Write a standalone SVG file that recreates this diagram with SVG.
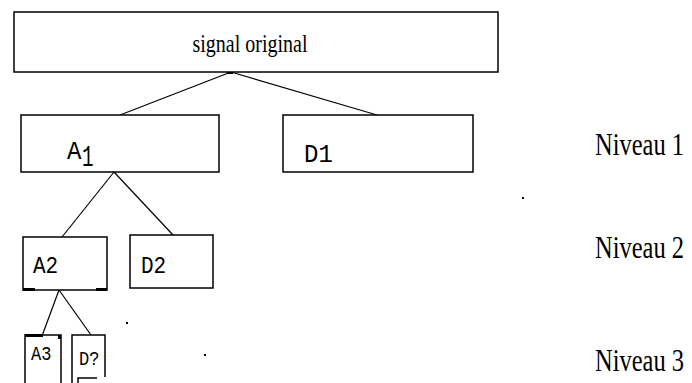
<svg xmlns="http://www.w3.org/2000/svg" width="692" height="383" viewBox="0 0 692 383">
<style>
.box{fill:#fff;stroke:#000;stroke-width:1.5}
.edge{fill:none;stroke:#000;stroke-width:1.2}
.serif{font-family:"Liberation Serif","Times New Roman",serif;fill:#000}
.mono{font-family:"Liberation Mono","Courier New",monospace;fill:#000}
.mark{fill:#000}
</style>
<rect width="692" height="383" fill="#fff"/>
<g id="connectors">
<line class="edge" x1="231" y1="72" x2="120" y2="115"/>
<line class="edge" x1="231" y1="72" x2="377" y2="115"/>
<line class="edge" x1="114" y1="172" x2="62" y2="237"/>
<line class="edge" x1="114" y1="172" x2="173" y2="235"/>
<line class="edge" x1="59" y1="290" x2="42" y2="336"/>
<line class="edge" x1="59" y1="290" x2="91" y2="335"/>
<rect class="mark" x="227" y="71" width="6" height="3"/>
</g>
<g id="signal">
<rect class="box" x="14" y="12" width="484" height="60"/>
<text class="serif" font-size="20" text-anchor="middle" transform="translate(250,52) scale(1,1.3)">signal original</text>
</g>
<g id="A1">
<rect class="box" x="21" y="115" width="198" height="57"/>
<text class="mono" font-size="24" transform="translate(67,159) scale(1,1.1)">A</text>
<text class="mono" font-size="24" transform="translate(82,166) scale(0.8,1.2)">1</text>
</g>
<g id="D1">
<rect class="box" x="283" y="115" width="190" height="57"/>
<text class="mono" font-size="24" transform="translate(304,162) scale(1,1.1)">D1</text>
</g>
<g id="A2">
<rect class="box" x="23" y="237" width="84" height="53"/>
<rect class="mark" x="23" y="288" width="12" height="3"/>
<rect class="mark" x="96" y="288" width="11" height="3"/>
<text class="mono" font-size="21" transform="translate(33,273) scale(1,1.1)">A2</text>
</g>
<g id="D2">
<rect class="box" x="130" y="235" width="83" height="53"/>
<text class="mono" font-size="21" transform="translate(141,273) scale(1,1.1)">D2</text>
</g>
<g id="A3">
<path class="box" d="M25,383 V335 H61 V383" fill="none"/>
<rect class="mark" x="25" y="334" width="18" height="3"/>
<rect class="mark" x="58" y="335" width="3" height="4"/>
<text class="mono" font-size="17" transform="translate(31,360) scale(1,1.2)">A3</text>
</g>
<g id="D3">
<path class="box" d="M72,383 V335 H105 V377" fill="none"/>
<path class="box" d="M78,383 V378 H97" fill="none"/>
<text class="mono" font-size="17" transform="translate(79,365) scale(1,1.2)">D?</text>
</g>
<g id="levels">
<text class="serif" font-size="24.5" transform="translate(595,155) scale(1,1.25)">Niveau 1</text>
<text class="serif" font-size="24.5" transform="translate(595,258) scale(1,1.25)">Niveau 2</text>
<text class="serif" font-size="24.5" transform="translate(595,371) scale(1,1.25)">Niveau 3</text>
</g>
<g id="dots">
<rect class="mark" x="126" y="322" width="2" height="2"/>
<rect class="mark" x="204" y="354" width="2" height="2"/>
<rect class="mark" x="522" y="197" width="2" height="2"/>
</g>
</svg>
